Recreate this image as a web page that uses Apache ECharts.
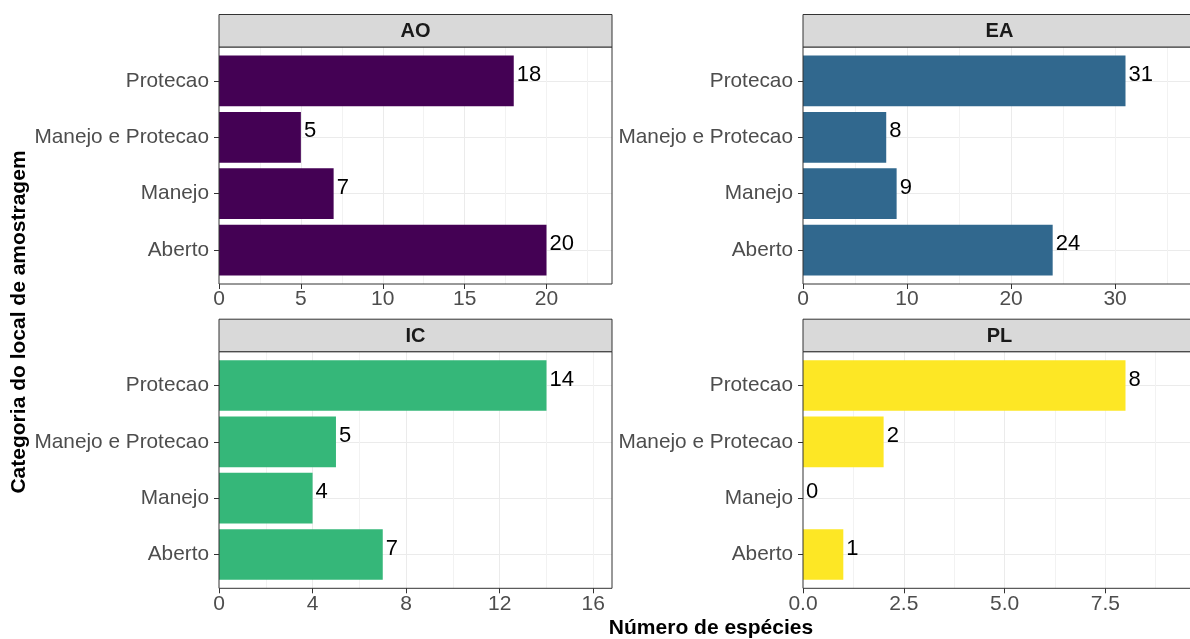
<!DOCTYPE html>
<html>
<head>
<meta charset="utf-8">
<script src="https://cdn.jsdelivr.net/npm/echarts@6/dist/echarts.min.js"></script>
<style>
  html, body { margin: 0; padding: 0; background: #ffffff; }
  #chart { width: 1190px; height: 639px; }
</style>
</head>
<body>
<div id="chart"></div>
<script>
// Categories, bottom to top on the vertical axis
const categories = ['Aberto', 'Manejo', 'Manejo e Protecao', 'Protecao'];
const facetNames = ['AO', 'EA', 'IC', 'PL'];

// Number of species per site category, same order as `categories`
const valuesAO = [20, 7, 5, 18];
const valuesEA = [24, 9, 8, 31];
const valuesIC = [7, 4, 5, 14];
const valuesPL = [1, 0, 2, 8];

// Major ticks and their labels on each facet's horizontal axis
const ticksAO = [0, 5, 10, 15, 20];
const ticksEA = [0, 10, 20, 30];
const ticksIC = [0, 4, 8, 12, 16];
const ticksPL = [0, 2.5, 5, 7.5];
const tickLabelsAO = ['0', '5', '10', '15', '20'];
const tickLabelsEA = ['0', '10', '20', '30'];
const tickLabelsIC = ['0', '4', '8', '12', '16'];
const tickLabelsPL = ['0.0', '2.5', '5.0', '7.5'];

const xTitle = 'Número de espécies';
const yTitle = 'Categoria do local de amostragem';

const FONT = "'Liberation Sans', Arial, Helvetica, sans-serif";

const facets = [
  { name: facetNames[0], values: valuesAO, ticks: ticksAO, labels: tickLabelsAO, color: '#440154' },
  { name: facetNames[1], values: valuesEA, ticks: ticksEA, labels: tickLabelsEA, color: '#31688E' },
  { name: facetNames[2], values: valuesIC, ticks: ticksIC, labels: tickLabelsIC, color: '#35B779' },
  { name: facetNames[3], values: valuesPL, ticks: ticksPL, labels: tickLabelsPL, color: '#FDE725' }
];

// Facet layout (pixels)
const panelLeft = [219, 803];
const panelWidth = 393;
const rows = [
  { stripTop: 14.5, plotTop: 47, plotBottom: 284 },
  { stripTop: 319.2, plotTop: 351.7, plotBottom: 588.3 }
];

const grids = [], xAxes = [], yAxes = [], series = [], graphics = [];

facets.forEach((f, i) => {
  const col = i % 2;
  const row = rows[Math.floor(i / 2)];
  const left = panelLeft[col];
  const h = row.plotBottom - row.plotTop;
  const unit = h / 4.2;                 // discrete scale: 3 steps + 0.6 padding on each side
  const maxX = Math.max(...f.values) * 1.2;
  const majorStep = f.ticks[1] - f.ticks[0];
  const minorStep = majorStep / 2;

  // Frame grid: full panel, carries the x axis and vertical grid lines
  const gA = grids.length;
  grids.push({ left: left, top: row.plotTop, width: panelWidth, height: h });
  // Bar grid: spans the category centres
  const gB = grids.length;
  grids.push({ left: left, top: row.plotTop + 0.6 * unit, width: panelWidth, height: 3 * unit });

  // minor vertical grid lines
  xAxes.push({
    gridIndex: gA, type: 'value', position: 'bottom', min: 0, max: maxX, interval: minorStep,
    axisLine: { show: false }, axisTick: { show: false }, axisLabel: { show: false },
    splitLine: { show: true, showMinLine: false, showMaxLine: false, lineStyle: { color: '#F2F2F2', width: 1 } }
  });
  // major axis with labels
  xAxes.push({
    gridIndex: gA, type: 'value', position: 'bottom', min: 0, max: maxX, interval: majorStep,
    axisLine: { show: false },
    axisTick: { show: true, length: 5, customValues: f.ticks, lineStyle: { color: '#333333', width: 1 } },
    axisLabel: {
      customValues: f.ticks,
      formatter: v => { const k = f.ticks.indexOf(v); return k >= 0 ? f.labels[k] : ''; },
      color: '#4D4D4D', fontSize: 21, fontFamily: FONT, margin: 5
    },
    splitLine: { show: true, showMinLine: false, showMaxLine: false, lineStyle: { color: '#EBEBEB', width: 1 } }
  });
  const xB = xAxes.length;
  xAxes.push({ gridIndex: gB, type: 'value', position: 'bottom', min: 0, max: maxX, show: false });

  yAxes.push({ gridIndex: gA, type: 'value', min: 0, max: 1, show: false });
  const yB = yAxes.length;
  yAxes.push({
    gridIndex: gB, type: 'category', position: 'left', data: categories, boundaryGap: false,
    axisLine: { show: false },
    axisTick: { show: true, length: 5, interval: 0, lineStyle: { color: '#333333', width: 1 } },
    axisLabel: { interval: 0, color: '#4D4D4D', fontSize: 20.8, fontFamily: FONT, margin: 10 },
    splitLine: { show: true, interval: 0, lineStyle: { color: '#EBEBEB', width: 1 } }
  });

  series.push({
    type: 'bar', name: f.name, xAxisIndex: xB, yAxisIndex: yB,
    data: f.values, barCategoryGap: '10%', clip: false,
    itemStyle: { color: f.color },
    label: {
      show: true, position: 'right', distance: 3, offset: [0, -6],
      color: '#000000', fontSize: 22, fontFamily: FONT
    }
  });

  // panel border on top of the bars
  graphics.push({
    type: 'rect', z: 100, silent: true,
    shape: { x: left, y: row.plotTop, width: panelWidth, height: h },
    style: { fill: 'none', stroke: '#333333', lineWidth: 1 }
  });
  // facet strip
  graphics.push({
    type: 'rect', z: 100, silent: true,
    shape: { x: left, y: row.stripTop, width: panelWidth, height: row.plotTop - row.stripTop },
    style: { fill: '#D9D9D9', stroke: '#333333', lineWidth: 1 }
  });
  graphics.push({
    type: 'text', z: 101, silent: true,
    x: left + panelWidth / 2, y: (row.stripTop + row.plotTop) / 2 + 1,
    style: { text: f.name, fill: '#1A1A1A', font: 'bold 20px ' + FONT, align: 'center', verticalAlign: 'middle' }
  });
});

// axis titles
graphics.push({
  type: 'text', z: 101, silent: true, x: 711, y: 628,
  style: { text: xTitle, fill: '#000000', font: 'bold 21px ' + FONT, align: 'center', verticalAlign: 'middle' }
});
graphics.push({
  type: 'text', z: 101, silent: true, x: 19, y: 322, rotation: Math.PI / 2,
  style: { text: yTitle, fill: '#000000', font: 'bold 21px ' + FONT, align: 'center', verticalAlign: 'middle' }
});

const chart = echarts.init(document.getElementById('chart'), null, { renderer: 'canvas' });
chart.setOption({
  animation: false,
  backgroundColor: '#ffffff',
  grid: grids,
  xAxis: xAxes,
  yAxis: yAxes,
  series: series,
  graphic: { elements: graphics }
});
</script>
</body>
</html>
